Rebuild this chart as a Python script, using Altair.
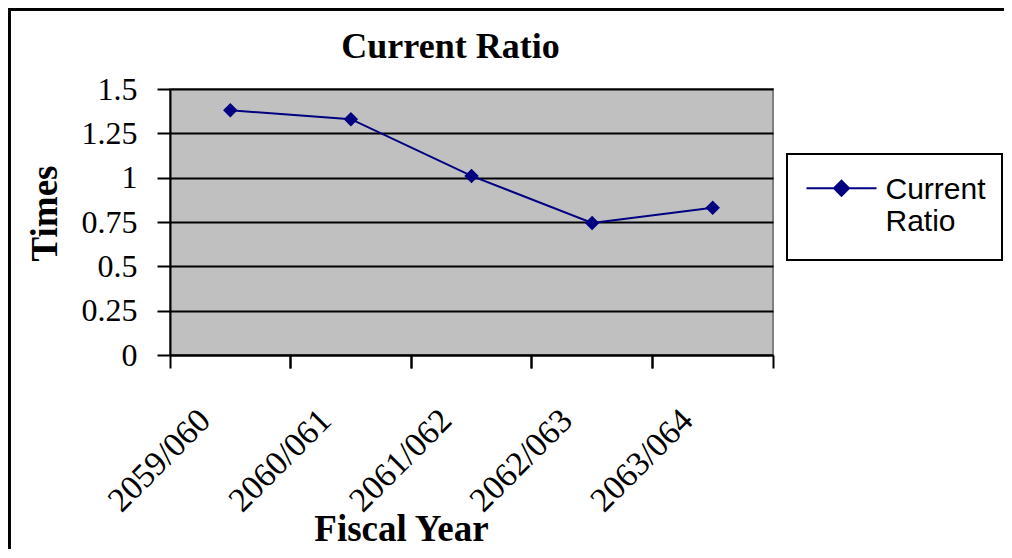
import altair as alt
import pandas as pd

years = ["2059/060", "2060/061", "2061/062", "2062/063", "2063/064"]
ratio = [1.38, 1.33, 1.01, 0.745, 0.83]
series = ["Current Ratio"] * len(years)
y_ticks = [0, 0.25, 0.5, 0.75, 1, 1.25, 1.5]

df = pd.DataFrame({"year": years, "ratio": ratio, "series": series})

SERIF = "Liberation Serif"
SANS = "Liberation Sans"
NAVY = "#000080"

xscale = alt.Scale(type="band", paddingInner=0, paddingOuter=0, domain=years)
yscale = alt.Scale(domain=[0, 1.5], nice=False, zero=True)

base = alt.Chart(df)

frame = base.mark_rect(fill=None, stroke="black", strokeWidth=3).encode(
    x=alt.value(-161), x2=alt.value(1200), y=alt.value(-80), y2=alt.value(900)
)

legend_box = base.mark_rect(fill="white", stroke="black", strokeWidth=2).encode(
    x=alt.value(617), x2=alt.value(832), y=alt.value(65), y2=alt.value(171)
)

line = base.mark_line(
    strokeWidth=2,
    point=alt.OverlayMarkDef(shape="diamond", size=210, filled=True, color=NAVY),
).encode(
    x=alt.X(
        "year:N",
        scale=xscale,
        sort=years,
        axis=alt.Axis(
            title="Fiscal Year",
            labelAngle=-45,
            labelAlign="right",
            labelBaseline="top",
            labelFont=SERIF,
            labelFontSize=34,
            labelColor="black",
            labelPadding=48,
            labelOffset=-37,
            ticks=False,
            tickSize=0,
            domain=True,
            domainColor="black",
            domainWidth=2,
            grid=False,
            titleFont=SERIF,
            titleFontSize=37,
            titleFontWeight="bold",
            titleColor="black",
            titleX=231,
            titleY=185,
            titleAlign="center",
            titleBaseline="alphabetic",
        ),
    ),
    y=alt.Y(
        "ratio:Q",
        scale=yscale,
        axis=alt.Axis(
            title="Times",
            values=y_ticks,
            labelExpr="datum.value + ''",
            labelFont=SERIF,
            labelFontSize=32,
            labelColor="black",
            labelPadding=20,
            tickSize=13,
            tickColor="black",
            tickWidth=2,
            domainColor="black",
            domainWidth=2,
            grid=True,
            gridColor="black",
            gridWidth=2,
            titleFont=SERIF,
            titleFontSize=37,
            titleFontWeight="bold",
            titleColor="black",
            titleX=-125,
            titleY=124,
            titleAlign="center",
            titleBaseline="middle",
            titleAngle=270,
        ),
    ),
    color=alt.Color(
        "series:N",
        scale=alt.Scale(range=[NAVY]),
        legend=alt.Legend(
            title=None,
            orient="none",
            legendX=609,
            legendY=75,
            padding=20,
            symbolType="M-4.667,-1.43L4.667,-1.43M0,-2.43L1,-1.43L0,-0.43L-1,-1.43Z",
            symbolSize=225,
            symbolOffset=27.5,
            symbolFillColor=NAVY,
            symbolStrokeColor=NAVY,
            symbolStrokeWidth=2,
            labelFont=SANS,
            labelFontSize=30,
            labelColor="black",
            labelOffset=29,
            labelBaseline="alphabetic",
            labelExpr="split(datum.label, ' ')",
            labelLimit=400,
        ),
    ),
)

tick_axis = dict(
    title=None, labels=False, ticks=True, tickSize=13, tickColor="black",
    tickWidth=2, domain=False, grid=False,
)

ticks0 = base.mark_line(opacity=0).encode(
    x=alt.X("year:N", scale=xscale, sort=years,
            axis=alt.Axis(orient="bottom", bandPosition=0, **tick_axis)),
    y=alt.Y("ratio:Q", scale=yscale),
)
ticks1 = base.mark_line(opacity=0).encode(
    x=alt.X("year:N", scale=xscale, sort=years,
            axis=alt.Axis(orient="bottom", bandPosition=1, **tick_axis)),
    y=alt.Y("ratio:Q", scale=yscale),
)
title_axis = base.mark_line(opacity=0).encode(
    x=alt.X("year:N", scale=xscale, sort=years,
            axis=alt.Axis(
                orient="top", labels=False, ticks=False, domain=False, grid=False,
                title="Current Ratio", titleFont=SERIF, titleFontSize=36,
                titleFontWeight="bold", titleColor="black",
                titleX=280, titleY=-32, titleAlign="center",
                titleBaseline="alphabetic",
            )),
    y=alt.Y("ratio:Q", scale=yscale),
)

chart = (
    alt.layer(frame, legend_box, line, ticks0, ticks1, title_axis)
    .resolve_axis(x="independent")
    .properties(
        width=603,
        height=266,
        autosize=alt.AutoSizeParams(type="none"),
        padding={"left": 162, "top": 81, "right": 231, "bottom": 194},
    )
    .configure(background="white")
    .configure_view(fill="#C0C0C0", stroke="#808080", strokeWidth=2)
    .configure_legend(strokeWidth=0)
)

chart.save("out.html", embed_options={"renderer": "svg", "actions": False})
